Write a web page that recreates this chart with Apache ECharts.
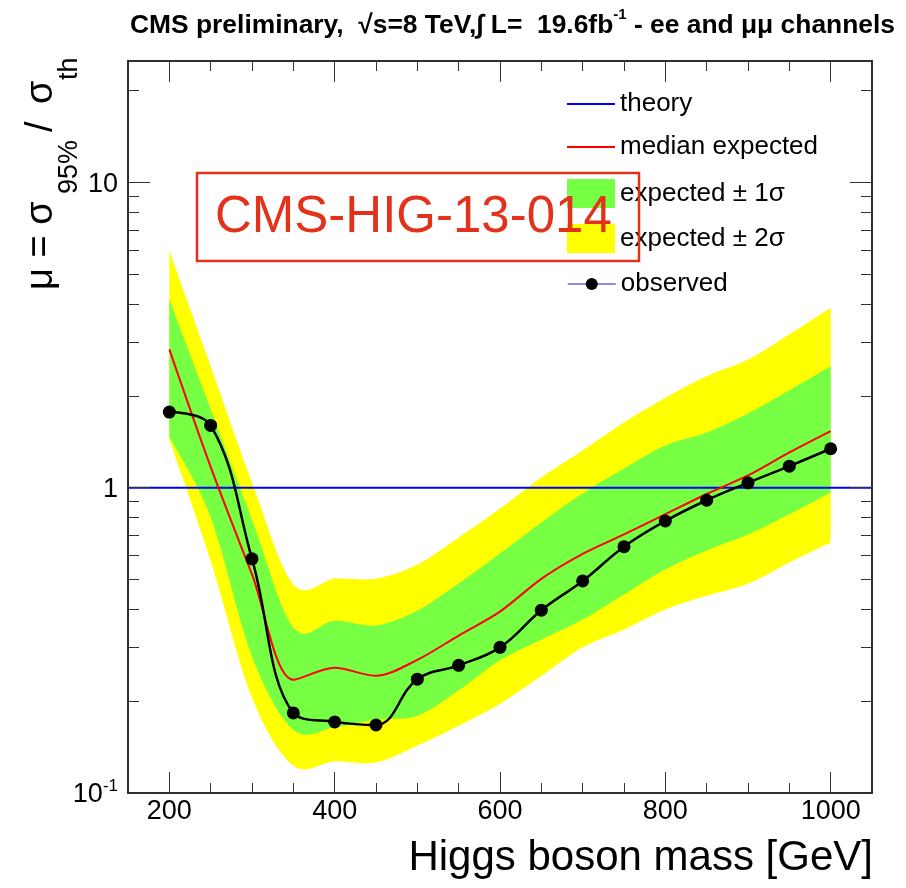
<!DOCTYPE html>
<html>
<head>
<meta charset="utf-8">
<script src="https://cdn.jsdelivr.net/npm/echarts@6/dist/echarts.min.js"></script>
<style>
  html, body { margin: 0; padding: 0; background: #fff; }
  #chart { width: 906px; height: 888px; }
</style>
</head>
<body>
<div id="chart"></div>
<script>
// Higgs mass points [GeV]
var mass = [200, 250, 300, 350, 400, 450, 500, 550, 600, 650, 700, 750, 800, 850, 900, 950, 1000];
var observed = [1.77, 1.60, 0.585, 0.183, 0.171, 0.167, 0.236, 0.262, 0.300, 0.397, 0.495, 0.641, 0.778, 0.910, 1.038, 1.177, 1.342];
var medianExp = [2.84, 1.17, 0.52, 0.235, 0.257, 0.242, 0.273, 0.328, 0.393, 0.503, 0.607, 0.703, 0.819, 0.954, 1.097, 1.305, 1.533];
var band1Up = [4.14, 1.81, 0.787, 0.348, 0.367, 0.354, 0.396, 0.486, 0.609, 0.770, 0.958, 1.157, 1.376, 1.517, 1.752, 2.085, 2.50];
var band1Down = [1.47, 0.80, 0.28, 0.161, 0.164, 0.174, 0.179, 0.217, 0.272, 0.318, 0.370, 0.447, 0.540, 0.623, 0.703, 0.818, 0.965];
var band2Up = [5.97, 2.50, 1.04, 0.482, 0.504, 0.504, 0.560, 0.687, 0.855, 1.081, 1.325, 1.637, 1.97, 2.32, 2.63, 3.18, 3.89];
var band2Down = [1.44, 0.575, 0.205, 0.123, 0.127, 0.126, 0.143, 0.166, 0.196, 0.242, 0.300, 0.343, 0.399, 0.443, 0.485, 0.569, 0.662];
var theoryMass = [150, 1050];
var theoryVal = [1, 1];

// axis ticks
var xMajor = [200, 400, 600, 800, 1000];
var xMinor = [250, 300, 350, 450, 500, 550, 650, 700, 750, 850, 900, 950];
var yMajor = [0.1, 1, 10];
var yMinor = [0.2, 0.3, 0.4, 0.5, 0.6, 0.7, 0.8, 0.9, 2, 3, 4, 5, 6, 7, 8, 9, 20];

var font = 'Liberation Sans';
var yellow = '#ffff00';
var green = '#77ff44';

function pts(xs, ys) {
    return xs.map(function (x, i) { return [x, ys[i]]; });
}

// cubic (catmull-rom) smoothing of pixel points, sampled for a polygon edge
function smoothEdge(p) {
    var k = 1 / 6, out = [];
    for (var i = 0; i < p.length - 1; i++) {
        var p0 = p[Math.max(i - 1, 0)], p1 = p[i], p2 = p[i + 1], p3 = p[Math.min(i + 2, p.length - 1)];
        var c1 = [p1[0] + (p2[0] - p0[0]) * k, p1[1] + (p2[1] - p0[1]) * k];
        var c2 = [p2[0] - (p3[0] - p1[0]) * k, p2[1] - (p3[1] - p1[1]) * k];
        for (var s = 0; s < 12; s++) {
            var t = s / 12, u = 1 - t;
            out.push([
                u * u * u * p1[0] + 3 * u * u * t * c1[0] + 3 * u * t * t * c2[0] + t * t * t * p2[0],
                u * u * u * p1[1] + 3 * u * u * t * c1[1] + 3 * u * t * t * c2[1] + t * t * t * p2[1]
            ]);
        }
    }
    out.push(p[p.length - 1]);
    return out;
}

function bandSeries(name, up, down, fill) {
    return {
        name: name, type: 'custom', coordinateSystem: 'cartesian2d', silent: true, z: 1,
        itemStyle: { color: fill },
        data: mass.map(function (m, i) { return [m, up[i], down[i]]; }),
        encode: { x: 0, y: [1, 2] },
        renderItem: function (params, api) {
            if (params.dataIndex !== 0) return null;
            var top = mass.map(function (m, i) { return api.coord([m, up[i]]); });
            var bot = mass.map(function (m, i) { return api.coord([m, down[i]]); }).reverse();
            return {
                type: 'polygon',
                shape: { points: smoothEdge(top).concat(smoothEdge(bot)) },
                style: { fill: fill }
            };
        }
    };
}

function xAx(pos, ticks, len, labels) {
    return {
        type: 'value', min: 150, max: 1050, position: pos, z: 5,
        axisLine: { show: true, onZero: false, lineStyle: { color: '#222', width: 1.5 } },
        axisTick: { show: true, inside: true, length: len, customValues: ticks, lineStyle: { color: '#333', width: 1 } },
        axisLabel: labels ? {
            customValues: ticks, fontFamily: font, fontSize: 27, color: '#000', margin: 5,
            formatter: function (v) { return String(v); }
        } : { show: false },
        splitLine: { show: false }
    };
}

function yAx(pos, ticks, len, labels) {
    return {
        type: 'log', logBase: 10, min: 0.1, max: 25, position: pos, z: 5,
        axisLine: { show: true, onZero: false, lineStyle: { color: '#222', width: 1.5 } },
        axisTick: { show: true, inside: true, length: len, customValues: ticks, lineStyle: { color: '#333', width: 1 } },
        axisLabel: labels ? {
            customValues: ticks, color: '#000', margin: 10,
            formatter: function (v) {
                if (v < 0.5) return '{a|10}{s|-1}';
                return '{a|' + Math.round(v) + '}';
            },
            rich: {
                a: { fontFamily: font, fontSize: 27, color: '#000', padding: [4, 0, 0, 0] },
                s: { fontFamily: font, fontSize: 17, color: '#000', verticalAlign: 'top' }
            }
        } : { show: false },
        splitLine: { show: false }
    };
}

function legendItem(name, top, itemHeight, extra) {
    var item = { name: name };
    for (var k in extra) item[k] = extra[k];
    return {
        orient: 'vertical', left: 562, top: top,
        itemWidth: 48, itemHeight: itemHeight,
        selectedMode: false,
        textStyle: { fontFamily: font, fontSize: 26, color: '#000', padding: [0, 0, 0, 0] },
        data: [item]
    };
}

var lineIcon = 'path://M0,0H48V2.2H0Z';

var chart = echarts.init(document.getElementById('chart'));
var option = {
    animation: false,
    backgroundColor: '#fff',
    title: {
        left: 125, top: 2,
        text: '{b|CMS preliminary,  \u221As=8 TeV,\u222B L=  19.6fb}{sp|-1}{b| - ee and \u03BC\u03BC channels}',
        textStyle: {
            rich: {
                b: { fontFamily: font, fontWeight: 'bold', fontSize: 26.4, color: '#000', lineHeight: 32, verticalAlign: 'bottom' },
                sp: { fontFamily: font, fontWeight: 'bold', fontSize: 15, color: '#000', verticalAlign: 'top' }
            }
        }
    },
    grid: { left: 128, right: 34, top: 61, bottom: 95, containLabel: false },
    xAxis: [
        xAx('bottom', xMajor, 21, true),
        xAx('bottom', xMinor, 10, false),
        xAx('top', xMajor, 21, false),
        xAx('top', xMinor, 10, false)
    ],
    yAxis: [
        yAx('left', yMajor, 22, true),
        yAx('left', yMinor, 11, false),
        yAx('right', yMajor, 22, false),
        yAx('right', yMinor, 11, false)
    ],
    legend: [
        legendItem('theory', 86, 29, { icon: lineIcon, itemStyle: { color: '#0000ff' } }),
        legendItem('median expected', 129, 29, { icon: lineIcon, itemStyle: { color: '#ff0000' } }),
        legendItem('expected \u00B1 1\u03C3', 174, 29, { icon: 'rect', itemStyle: { color: green } }),
        legendItem('expected \u00B1 2\u03C3', 219, 29, { icon: 'rect', itemStyle: { color: yellow } }),
        legendItem('observed', 266, 15, { lineStyle: { color: '#6666dd', width: 1.5 } })
    ],
    series: [
        bandSeries('expected \u00B1 2\u03C3', band2Up, band2Down, yellow),
        bandSeries('expected \u00B1 1\u03C3', band1Up, band1Down, green),
        {
            name: 'theory', type: 'line', data: pts(theoryMass, theoryVal), symbol: 'none',
            lineStyle: { color: '#0000ff', width: 2 }, itemStyle: { color: '#0000ff' }, z: 3
        },
        {
            name: 'median expected', type: 'line', data: pts(mass, medianExp), smooth: 0.3, symbol: 'none',
            lineStyle: { color: '#ff0000', width: 2 }, itemStyle: { color: '#ff0000' }, z: 3
        },
        {
            name: 'observed', type: 'line', data: pts(mass, observed), smooth: 0.4,
            symbol: 'circle', symbolSize: 13,
            lineStyle: { color: '#000', width: 2.5 }, itemStyle: { color: '#000' }, z: 4
        }
    ],
    graphic: [
        {
            type: 'group', x: 55, y: 290, rotation: Math.PI / 2, z: 50,
            children: [
                { type: 'text', x: 0, y: -13, style: { text: '\u03BC = \u03C3', font: '38px ' + font, fill: '#000', verticalAlign: 'middle' } },
                { type: 'text', x: 96, y: 15, style: { text: '95%', font: '27px ' + font, fill: '#000', verticalAlign: 'middle' } },
                { type: 'text', x: 158, y: -13, style: { text: '/', font: '38px ' + font, fill: '#000', verticalAlign: 'middle' } },
                { type: 'text', x: 186, y: -13, style: { text: '\u03C3', font: '38px ' + font, fill: '#000', verticalAlign: 'middle' } },
                { type: 'text', x: 210, y: 15, style: { text: 'th', font: '27px ' + font, fill: '#000', verticalAlign: 'middle' } }
            ]
        },
        {
            type: 'text', x: 873, y: 858, z: 50,
            style: { text: 'Higgs boson mass [GeV]', font: '42px ' + font, fill: '#000', align: 'right', verticalAlign: 'middle' }
        },
        {
            type: 'rect', z: 100,
            shape: { x: 197, y: 173, width: 442, height: 88 },
            style: { fill: 'none', stroke: '#e3321c', lineWidth: 2.5 }
        },
        {
            type: 'text', x: 215, y: 218, z: 100,
            style: { text: 'CMS-HIG-13-014', font: '51px ' + font, fill: '#e3321c', verticalAlign: 'middle' }
        }
    ]
};
chart.setOption(option);
</script>
</body>
</html>
